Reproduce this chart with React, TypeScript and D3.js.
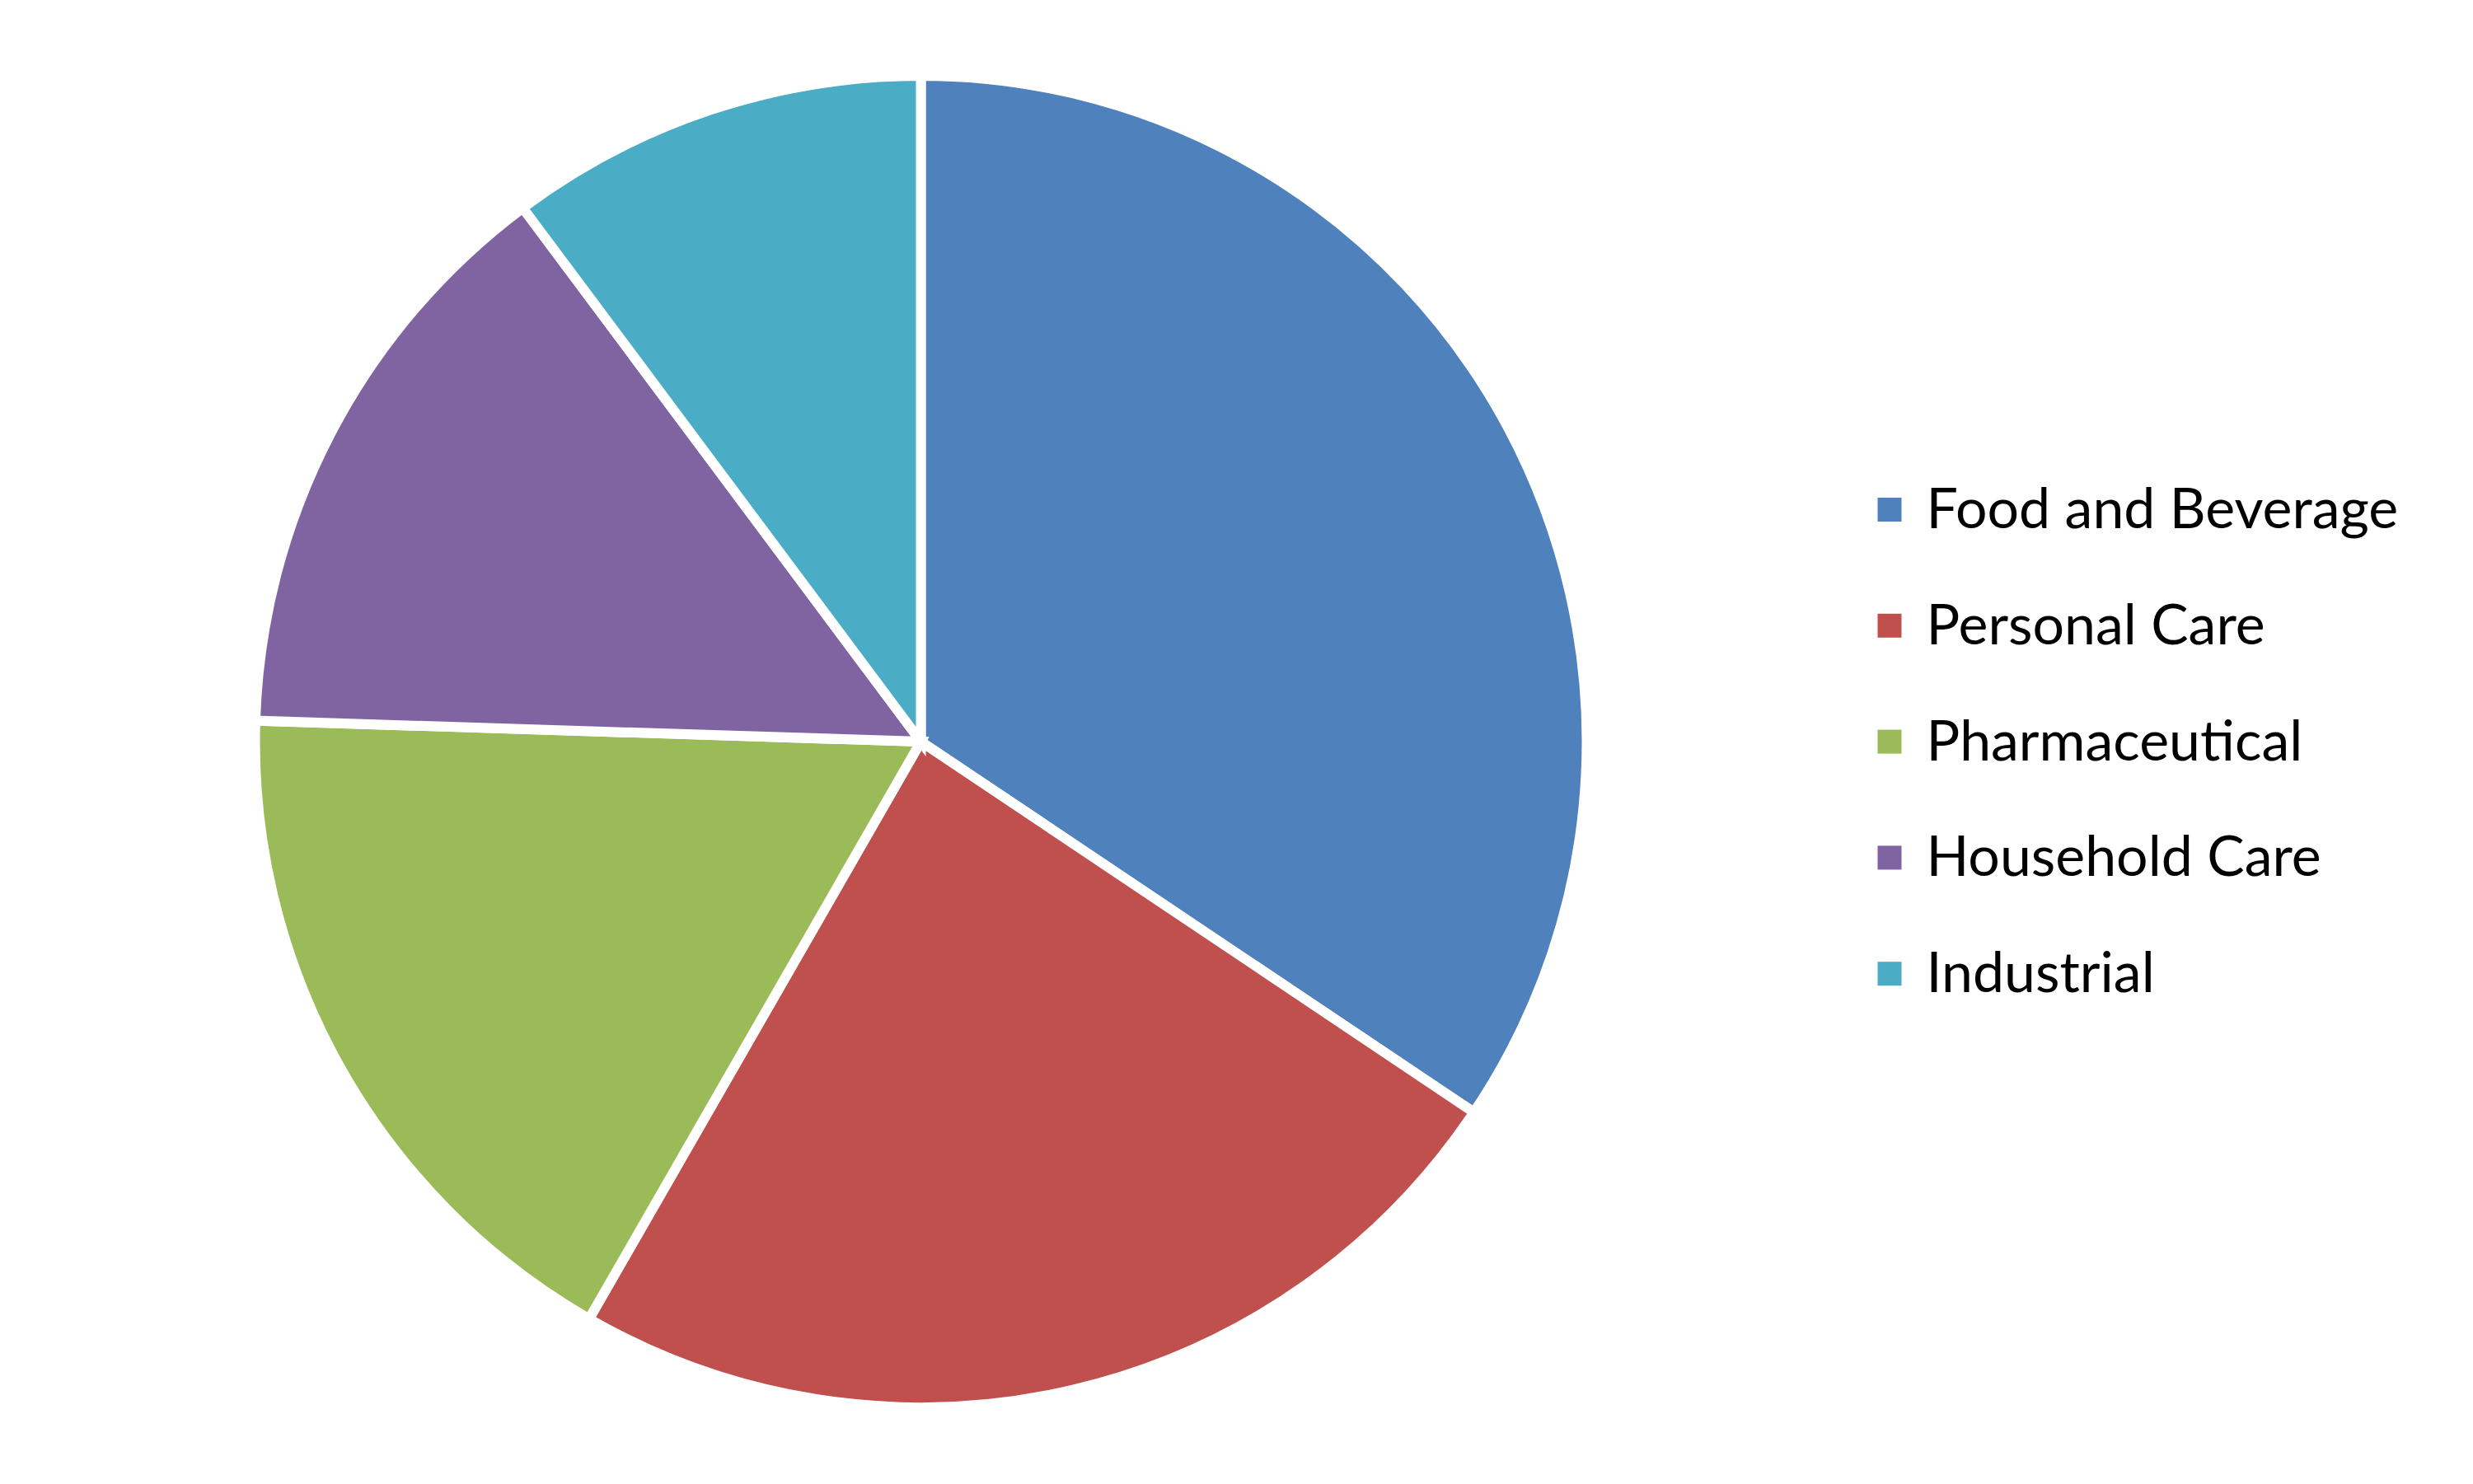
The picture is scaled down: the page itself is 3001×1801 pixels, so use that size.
import React from "react";
import * as d3 from "d3";

const categories = ["Food and Beverage", "Personal Care", "Pharmaceutical", "Household Care", "Industrial"];
const values = [34.4, 23.9, 17.2, 14.3, 10.2];
const colors = ["#4F81BD", "#C0504D", "#9BBB59", "#8064A2", "#4BACC6"];

export default function App() {
  const width = 3001;
  const height = 1801;
  const cx = 1117.5;
  const cy = 900;
  const radius = 808;

  const pie = d3.pie<number>().sort(null).startAngle(0).endAngle(2 * Math.PI);
  const arcs = pie(values);
  const arcGen = d3.arc<d3.PieArcDatum<number>>().innerRadius(0).outerRadius(radius);

  const legendX = 2278.5;
  const legendY0 = 618.5;
  const legendStep = 140.8;
  const sq = 29;

  return (
    <svg width={width} height={height} style={{ position: "absolute", left: 0, top: 0, background: "#fff" }}>
      <rect x={0} y={0} width={width} height={height} fill="#fff" />
      <g transform={`translate(${cx},${cy})`}>
        {arcs.map((a, i) => (
          <path key={i} d={arcGen(a) || ""} fill={colors[i]} stroke="#fff" strokeWidth={12} strokeLinejoin="miter" />
        ))}
      </g>
      <g>
        {categories.map((c, i) => {
          const y = legendY0 + i * legendStep;
          return (
            <g key={c}>
              <rect x={legendX} y={y - sq / 2} width={sq} height={sq} fill={colors[i]} />
              <text x={2337.5} y={y + 22.5} fontFamily="Lato, 'Open Sans', sans-serif" fontSize={68} fill="#000">
                {c}
              </text>
            </g>
          );
        })}
      </g>
    </svg>
  );
}
